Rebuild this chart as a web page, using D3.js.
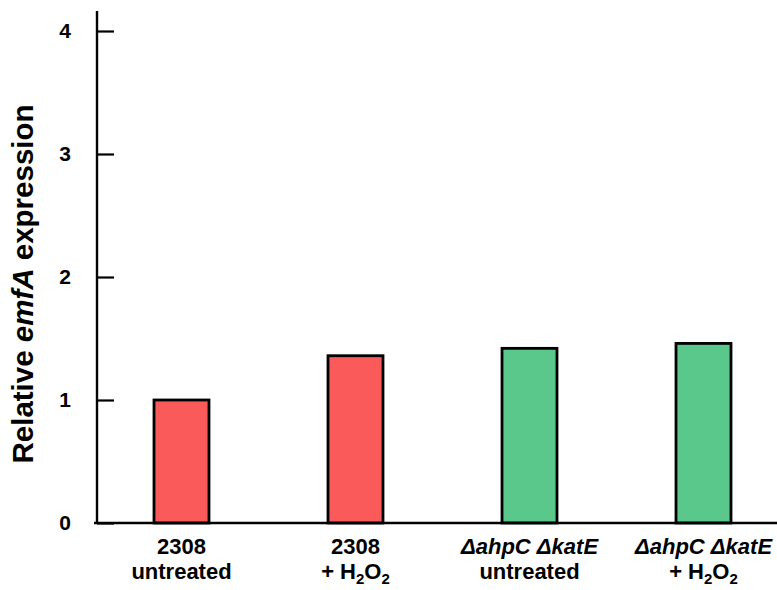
<!DOCTYPE html>
<html>
<head>
<meta charset="utf-8">
<script src="https://cdn.jsdelivr.net/npm/d3@7"></script>
<style>
  body { margin: 0; background: #fff; }
  svg { display: block; font-family: "Liberation Sans", Arial, sans-serif; font-weight: bold; }
</style>
</head>
<body>
<svg id="chart" width="777" height="590"></svg>
<script>
// Data
const categories = ["2308 untreated", "2308 + H2O2", "ΔahpC ΔkatE untreated", "ΔahpC ΔkatE + H2O2"];
const values = [1.0, 1.36, 1.42, 1.46];
const groups = ["wt", "wt", "mut", "mut"];
const yTicks = [0, 1, 2, 3, 4];
const labelLine1 = ["2308", "2308", "ΔahpC ΔkatE", "ΔahpC ΔkatE"];
const labelLine2 = ["untreated", "+ H2O2", "untreated", "+ H2O2"];
const line1Italic = [false, false, true, true];

const svg = d3.select("#chart");
const x0 = 97, x1 = 777, yTop = 11;

const y = d3.scaleLinear().domain([0, 4]).range([523, 31]);
const x = d3.scaleBand().domain(categories).range([94.5, 790.5]).paddingInner(0.684).paddingOuter(0.342);
const color = d3.scaleOrdinal().domain(["wt", "mut"]).range(["#fa5a5a", "#5ac88a"]);

// bars
svg.append("g").selectAll("rect").data(categories).join("rect")
  .attr("x", d => x(d))
  .attr("width", x.bandwidth())
  .attr("y", (d, i) => y(values[i]))
  .attr("height", (d, i) => y(0) - y(values[i]))
  .attr("fill", (d, i) => color(groups[i]))
  .attr("stroke", "#000")
  .attr("stroke-width", 2.8);

// y axis
const yAxis = d3.axisLeft(y).tickValues(yTicks).tickFormat(d3.format("d"))
  .tickSize(-17).tickSizeOuter(0).tickPadding(26);
const gy = svg.append("g").attr("transform", `translate(${x0},0)`).call(yAxis);
gy.select(".domain").remove();
gy.selectAll(".tick line").attr("stroke", "#000").attr("stroke-width", 2.2);
gy.selectAll(".tick text").attr("font-size", 21).attr("font-weight", "bold")
  .attr("font-family", "Liberation Sans, Arial, sans-serif").attr("fill", "#000");

// axis lines
svg.append("line").attr("x1", x0).attr("x2", x0).attr("y1", yTop).attr("y2", y(0) + 1)
  .attr("stroke", "#000").attr("stroke-width", 2.4);
svg.append("line").attr("x1", x0 - 3).attr("x2", x1).attr("y1", y(0)).attr("y2", y(0))
  .attr("stroke", "#000").attr("stroke-width", 2.4);

// x labels
const lg = svg.append("g").attr("font-size", 22).attr("text-anchor", "middle").attr("fill", "#000");
categories.forEach((c, i) => {
  const cx = x(c) + x.bandwidth() / 2;
  lg.append("text").attr("x", cx).attr("y", 554)
    .attr("font-style", line1Italic[i] ? "italic" : "normal")
    .text(labelLine1[i]);
  const t = lg.append("text").attr("x", cx).attr("y", 579);
  const s = labelLine2[i];
  if (s.includes("H2O2")) {
    t.append("tspan").text("+ H");
    t.append("tspan").attr("font-size", 15).attr("dy", 5).text("2");
    t.append("tspan").attr("dy", -5).text("O");
    t.append("tspan").attr("font-size", 15).attr("dy", 5).text("2");
  } else {
    t.text(s);
  }
});

// y title
const title = svg.append("text")
  .attr("transform", `translate(33,284) rotate(-90)`)
  .attr("text-anchor", "middle").attr("font-size", 29.5).attr("fill", "#000");
title.append("tspan").text("Relative ");
title.append("tspan").attr("font-style", "italic").text("emfA");
title.append("tspan").text(" expression");
</script>
</body>
</html>
